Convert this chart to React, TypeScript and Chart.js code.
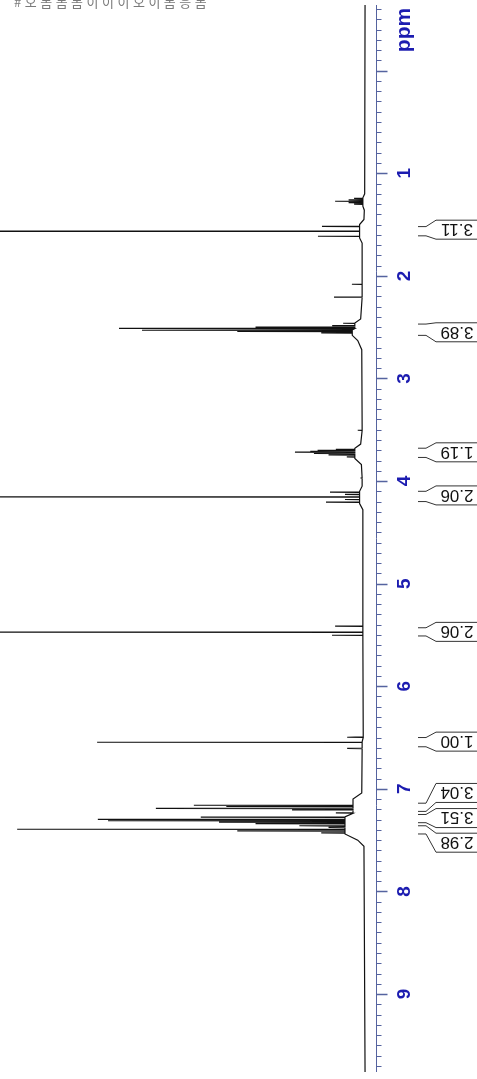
import React, { useEffect, useRef } from 'react';
import { Chart, registerables } from 'chart.js';

Chart.register(...registerables);

const W = 477;
const H = 1079;

// ppm axis range (top -> bottom)
const PPM_MIN = -0.64;
const PPM_MAX = 9.76;

// baseline readings (ppm, intensity)
const BASE_PPM = [-0.64, 1.2, 1.24, 1.32, 1.36, 1.45, 1.5, 1.63, 1.68, 2.0, 2.42, 2.46, 2.58, 2.63, 2.72, 3.45, 3.64, 3.68, 3.78, 3.84, 4.05, 4.1, 4.22, 4.28, 5.4, 5.52, 6.45, 6.62, 7.04, 7.1, 7.44, 7.5, 7.56, 9.76];
const BASE_INT = [0, 0.1, 0.6, 0.6, 0.2, 0.3, 1.5, 1.5, 0.8, 0.8, 1.2, 2.8, 3.5, 2.0, 0.9, 0.8, 1.2, 2.8, 2.8, 1.0, 0.8, 1.5, 1.5, 0.6, 0.6, 0.6, 0.5, 0.8, 0.9, 3.3, 5.5, 2.0, 0.3, 0];

// peak lines (ppm, intensity)
const PEAK_PPM = [
  1.245, 1.26, 1.273, 1.287, 1.3,
  1.518, 1.565, 1.614,
  2.082, 2.208,
  2.462, 2.485, 2.5, 2.511, 2.53, 2.542, 2.556,
  3.505,
  3.69, 3.7, 3.71, 3.719, 3.73, 3.745, 3.765,
  3.97,
  4.108, 4.13, 4.155, 4.18, 4.206,
  5.415, 5.473, 5.503,
  6.497, 6.546, 6.605,
  7.16, 7.172, 7.19, 7.205, 7.235,
  7.275, 7.297, 7.31, 7.325, 7.34, 7.36, 7.375,
  7.394, 7.41, 7.43,
];
const PEAK_INT = [
  3, 4.5, 8.2, 4.5, 3,
  11.8, 140, 12.9,
  3.6, 8.5,
  6, 9, 30, 67.4, 61.1, 35, 12,
  2,
  8, 13, 15, 19.2, 14, 10, 5,
  1,
  9.6, 5.5, 140, 5.5, 10.7,
  8.2, 140, 9.05,
  4.9, 73.4, 4.9,
  46.9, 38, 57.3, 20, 8,
  45, 73.2, 70.4, 40, 30, 18, 10,
  95.3, 35, 12,
];

// axis ticks
const MAJOR_TICKS = [0, 1, 2, 3, 4, 5, 6, 7, 8, 9];
const TICK_LABELS = ['', '1', '2', '3', '4', '5', '6', '7', '8', '9'];
const MINOR_FIRST = -6; // in tenths of ppm
const MINOR_LAST = 97;
const AXIS_TITLE = 'ppm';

// integrals
const INT_VALUES = ['3.11', '3.89', '1.19', '2.06', '2.06', '1.00', '3.04', '3.51', '2.98'];
const INT_FROM = [1.52, 2.47, 3.68, 4.1, 5.43, 6.5, 7.14, 7.25, 7.36];
const INT_TO = [1.61, 2.58, 3.77, 4.2, 5.51, 6.59, 7.22, 7.33, 7.44];
const INT_LABEL_PPM = [1.55, 2.55, 3.72, 4.14, 5.47, 6.54, 7.04, 7.285, 7.525];

const HEADER_TEXT = '#오몸몸몸이이이오이몸응몸';

const AXIS_COLOR = '#55639f';
const LABEL_COLOR = '#1c1cb0';

function nearestBase(p: number): number {
  let best = 0;
  let bd = Infinity;
  for (let i = 0; i < BASE_PPM.length; i++) {
    const d = Math.abs(BASE_PPM[i] - p);
    if (d < bd) {
      bd = d;
      best = BASE_INT[i];
    }
  }
  return best;
}

function buildPoints() {
  const pts: { x: number; y: number }[] = [];
  BASE_PPM.forEach((p, i) => pts.push({ x: BASE_INT[i], y: p }));
  PEAK_PPM.forEach((p, i) => {
    const b = nearestBase(p);
    pts.push({ x: b, y: p - 0.0025 });
    pts.push({ x: PEAK_INT[i], y: p });
    pts.push({ x: b, y: p + 0.0025 });
  });
  pts.sort((a, b) => a.y - b.y);
  return pts;
}

const overlayPlugin = {
  id: 'nmrOverlay',
  afterDraw(chart: any) {
    const ctx = chart.ctx as CanvasRenderingContext2D;
    const ys = chart.scales.y;
    const area = chart.chartArea;
    const ax = Math.round(area.right) + 0.5;
    ctx.save();
    ctx.strokeStyle = AXIS_COLOR;
    ctx.lineWidth = 1;
    ctx.beginPath();
    ctx.moveTo(ax, area.top);
    ctx.lineTo(ax, area.bottom);
    ctx.stroke();

    // minor ticks
    ctx.beginPath();
    for (let i = MINOR_FIRST; i <= MINOR_LAST; i++) {
      if (i % 10 === 0) continue;
      const py = Math.round(ys.getPixelForValue(i / 10)) + 0.5;
      ctx.moveTo(ax, py);
      ctx.lineTo(ax + 5, py);
    }
    ctx.stroke();

    // major ticks
    ctx.lineWidth = 1.3;
    ctx.beginPath();
    MAJOR_TICKS.forEach((v) => {
      const py = Math.round(ys.getPixelForValue(v)) + 0.5;
      ctx.moveTo(ax, py);
      ctx.lineTo(ax + 11, py);
    });
    ctx.stroke();

    // tick labels
    ctx.fillStyle = LABEL_COLOR;
    ctx.font = 'bold 19px "Liberation Sans", Arial, sans-serif';
    ctx.textAlign = 'center';
    ctx.textBaseline = 'middle';
    MAJOR_TICKS.forEach((v, i) => {
      const t = TICK_LABELS[i];
      if (!t) return;
      const py = ys.getPixelForValue(v);
      ctx.save();
      ctx.translate(404, py);
      ctx.rotate(-Math.PI / 2);
      ctx.fillText(t, 0, 1);
      ctx.restore();
    });

    // axis title
    ctx.save();
    ctx.font = 'bold 21px "Liberation Sans", Arial, sans-serif';
    ctx.translate(404, area.top + 25);
    ctx.rotate(-Math.PI / 2);
    ctx.fillText(AXIS_TITLE, 0, 0);
    ctx.restore();

    // integrals
    ctx.strokeStyle = '#333';
    ctx.lineWidth = 1;
    ctx.fillStyle = '#111';
    ctx.font = '17px "Liberation Sans", Arial, sans-serif';
    INT_VALUES.forEach((label, i) => {
      const yA = ys.getPixelForValue(INT_FROM[i]);
      const yB = ys.getPixelForValue(INT_TO[i]);
      const yc = ys.getPixelForValue(INT_LABEL_PPM[i]);
      const top = yc - 9.5;
      const bot = yc + 9.5;
      ctx.beginPath();
      ctx.moveTo(418, yA);
      ctx.lineTo(426, yA);
      ctx.lineTo(436, top);
      ctx.lineTo(W, top);
      ctx.moveTo(418, yB);
      ctx.lineTo(426, yB);
      ctx.lineTo(436, bot);
      ctx.lineTo(W, bot);
      ctx.stroke();
      ctx.save();
      ctx.translate(457, yc);
      ctx.rotate(Math.PI);
      ctx.textAlign = 'center';
      ctx.textBaseline = 'middle';
      ctx.fillText(label, 0, 1);
      ctx.restore();
    });
    ctx.restore();
  },
};

export default function App() {
  const ref = useRef<HTMLCanvasElement | null>(null);
  useEffect(() => {
    if (!ref.current) return;
    const chart = new Chart(ref.current, {
      type: 'scatter',
      data: {
        datasets: [
          {
            data: buildPoints(),
            showLine: true,
            borderColor: '#111',
            borderWidth: 1.2,
            pointRadius: 0,
            tension: 0,
          } as any,
        ],
      },
      options: {
        animation: false,
        responsive: false,
        maintainAspectRatio: false,
        events: [],
        layout: { padding: { top: 5, bottom: 7, left: 0, right: 0 } },
        plugins: { legend: { display: false }, tooltip: { enabled: false } },
        scales: {
          x: { type: 'linear', display: false, reverse: true, min: -3, max: 100 },
          y: {
            type: 'linear',
            position: 'right',
            reverse: true,
            min: PPM_MIN,
            max: PPM_MAX,
            grid: { display: false },
            border: { display: false },
            ticks: { display: false },
            afterFit: (s: any) => {
              s.width = 101;
            },
          },
        },
      } as any,
      plugins: [overlayPlugin],
    });
    return () => chart.destroy();
  }, []);
  return (
    <div style={{ position: 'absolute', left: 0, top: 0, width: W, height: H, overflow: 'hidden', background: '#fff' }}>
      <canvas ref={ref} width={W} height={H} style={{ display: 'block', width: W, height: H }} />
      <div
        style={{
          position: 'absolute',
          left: 14,
          top: -8,
          fontSize: 13,
          letterSpacing: 3.5,
          color: '#7a7a7a',
          whiteSpace: 'pre',
          fontFamily: '"Noto Sans CJK KR", sans-serif',
        }}
      >
        {HEADER_TEXT}
      </div>
    </div>
  );
}
